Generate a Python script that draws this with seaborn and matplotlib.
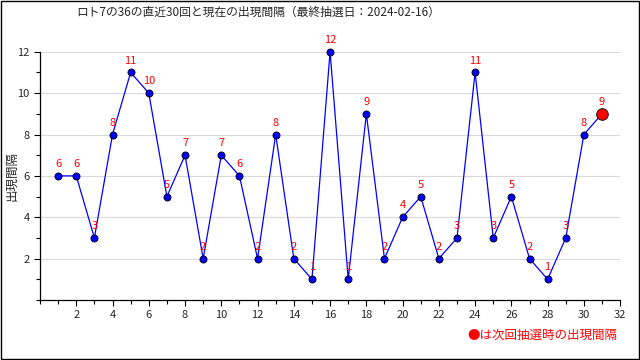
import matplotlib
matplotlib.use("Agg")
import matplotlib.pyplot as plt
import seaborn as sns
import pandas as pd
from matplotlib.ticker import MultipleLocator

# 出現間隔 (直近30回)
draws = list(range(1, 31))
intervals = [6, 6, 3, 8, 11, 10, 5, 7, 2, 7, 6, 2, 8, 2, 1,
             12, 1, 9, 2, 4, 5, 2, 3, 11, 3, 5, 2, 1, 3, 8]
# 次回抽選時の出現間隔
next_draw = 31
next_interval = 9

title = "ロト7の36の直近30回と現在の出現間隔（最終抽選日：2024-02-16）"

sns.set_style("white")
plt.rcParams["font.family"] = ["Noto Sans CJK JP", "DejaVu Sans"]

df = pd.DataFrame({"draw": draws, "interval": intervals})

fig = plt.figure(figsize=(6.4, 3.6), dpi=100)
ax = fig.add_axes([0.0625, 0.1667, 0.9065, 0.6895])

# connecting line incl. the current point
line_df = pd.DataFrame({"draw": draws + [next_draw],
                        "interval": intervals + [next_interval]})
sns.lineplot(data=line_df, x="draw", y="interval", ax=ax, color="blue",
             linewidth=0.9, zorder=2, clip_on=False)
sns.scatterplot(data=df, x="draw", y="interval", ax=ax, color="blue",
                edgecolor="black", linewidth=0.6, s=26, zorder=3,
                clip_on=False)
ax.scatter([next_draw], [next_interval], color="red", edgecolor="black",
           linewidth=0.6, s=70, zorder=4, clip_on=False)

for x, y in zip(line_df["draw"], line_df["interval"]):
    ax.annotate(str(y), (x, y), xytext=(0, 5), textcoords="offset points",
                ha="center", va="bottom", color="red", fontsize=8,
                annotation_clip=False)

ax.set_xlim(0, 32)
ax.set_ylim(0, 12)
ax.xaxis.set_minor_locator(MultipleLocator(1))
ax.yaxis.set_minor_locator(MultipleLocator(1))
ax.set_xticks(range(2, 33, 2))
ax.set_yticks(range(2, 13, 2))
ax.tick_params(which="major", direction="out", length=4, width=0.8,
               labelsize=8, color="black", bottom=True, left=True)
ax.tick_params(which="minor", direction="out", length=3, width=0.8,
               color="black", bottom=True, left=True)
ax.grid(axis="y", which="major", color="#d9d9d9", linewidth=0.8)
ax.set_axisbelow(True)
for side in ["top", "right"]:
    ax.spines[side].set_visible(False)
for side in ["left", "bottom"]:
    ax.spines[side].set_color("black")
    ax.spines[side].set_linewidth(0.9)

ax.set_xlabel("")
ax.set_ylabel("出現間隔", fontsize=9)
ax.yaxis.set_label_coords(-0.037, 0.5)
fig.text(0.403, 0.965, title, ha="center", va="center", fontsize=8.5)
fig.text(0.965, 0.07, "●は次回抽選時の出現間隔", ha="right", va="center",
         fontsize=9, color="red")

# outer frame
fig.patches.append(plt.Rectangle((0.001, 0.002), 0.997, 0.995,
                                 transform=fig.transFigure, fill=False,
                                 edgecolor="black", linewidth=1))

fig.savefig("out.png", dpi=100)
